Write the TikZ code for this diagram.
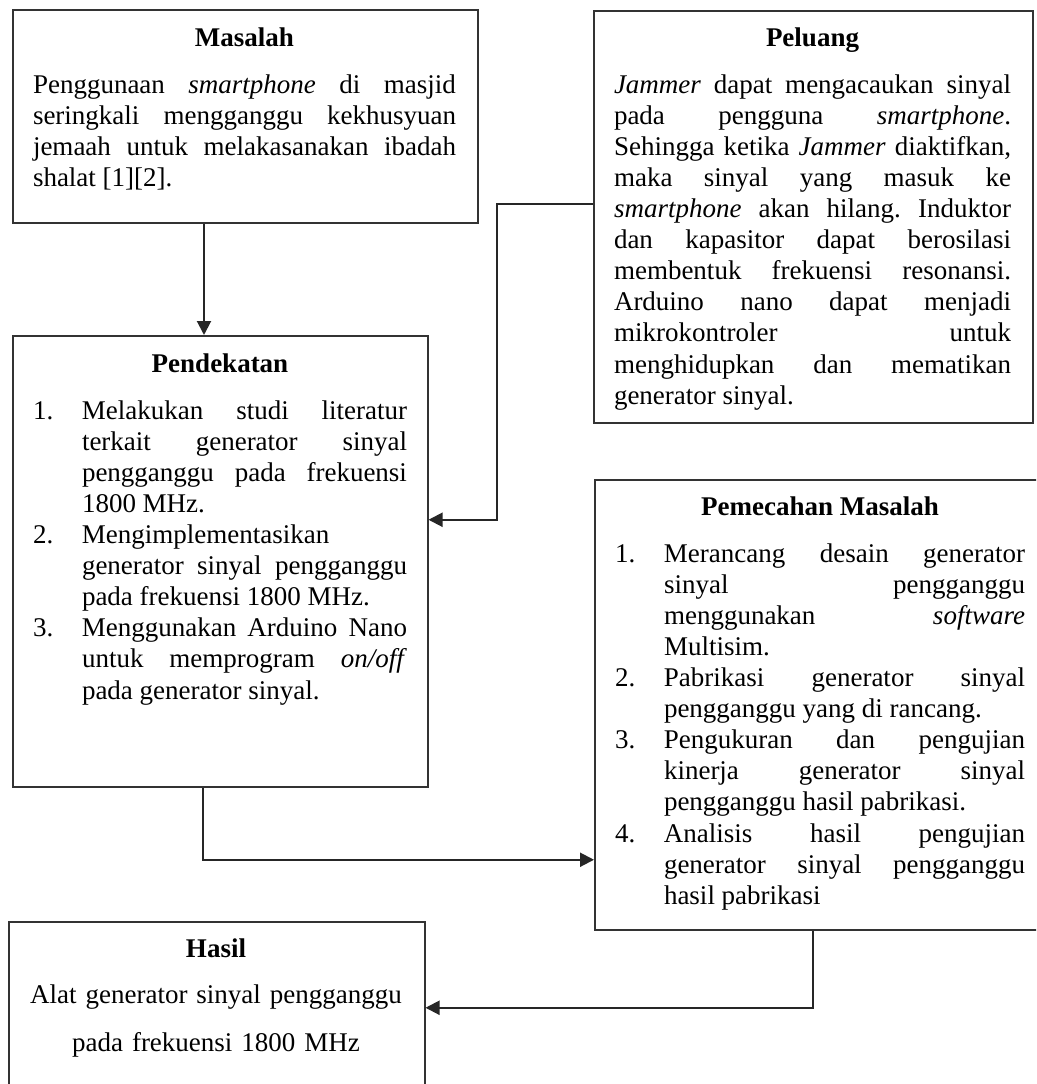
\documentclass[tikz,border=0pt]{standalone}
\usepackage{fontspec}
\setmainfont{Liberation Serif}
\usetikzlibrary{arrows.meta}
\newcommand{\butir}[1]{\par\noindent\hangindent=49pt\hangafter=1\makebox[49pt][l]{#1}\ignorespaces}
\tolerance=10000
\hbadness=10000
\hyphenpenalty=10000
\frenchspacing
\begin{document}
\begin{tikzpicture}[x=1pt, y=-1pt, font=\fontsize{27}{31.1}\selectfont,
    kotak/.style={draw=black!80, line width=1.5pt, anchor=north west, inner sep=0pt},
    teks/.style={anchor=base, inner sep=0pt, align=justify},
    panah/.style={draw=black!85, line width=2pt, -{Triangle[length=14pt, width=14pt]}}]
    \fill[white] (0,0) rectangle (1036,1084);
    \useasboundingbox (0,0) rectangle (1036,1084);
    \clip (0,0) rectangle (1036,1084);

    \node (masalah) [kotak, minimum width=465pt, minimum height=213pt] at (12, 9) {};
    \node (peluang) [kotak, minimum width=439pt, minimum height=412pt] at (593, 10) {};
    \node (pendekatan) [kotak, minimum width=415pt, minimum height=451pt] at (12, 335) {};
    \node (pemecahan) [kotak, minimum width=451pt, minimum height=450pt] at (594, 479) {};
    \node (hasil) [kotak, minimum width=416pt, minimum height=172pt] at (8, 921) {};

    \node (masalah-teks) [teks, text width=423pt] at (244.5, 46) {{\centering\bfseries Masalah\par}\vspace{16pt}Penggunaan \textit{smartphone} di masjid\linebreak seringkali mengganggu kekhusyuan\linebreak jemaah untuk melakasanakan ibadah\linebreak shalat [1][2].\par};
    \node (peluang-teks) [teks, text width=397pt] at (812.5, 46) {{\centering\bfseries Peluang\par}\vspace{16pt}\textit{Jammer} dapat mengacaukan sinyal\linebreak pada pengguna \textit{smartphone}.\linebreak Sehingga ketika \textit{Jammer} diaktifkan,\linebreak maka sinyal yang masuk ke\linebreak \textit{smartphone} akan hilang. Induktor\linebreak dan kapasitor dapat berosilasi\linebreak membentuk frekuensi resonansi.\linebreak Arduino nano dapat menjadi\linebreak mikrokontroler untuk\linebreak menghidupkan dan mematikan\linebreak generator sinyal.\par};
    \node (pendekatan-teks) [teks, text width=374pt] at (220, 372) {{\centering\bfseries Pendekatan\par}\vspace{16pt}%
        \butir{1.}Melakukan studi literatur\linebreak terkait generator sinyal\linebreak pengganggu pada frekuensi\linebreak 1800 MHz.
        \butir{2.}Mengimplementasikan\linebreak generator sinyal pengganggu\linebreak pada frekuensi 1800 MHz.
        \butir{3.}Menggunakan Arduino Nano\linebreak untuk memprogram \textit{on/off}\linebreak pada generator sinyal.\par};
    \node (pemecahan-teks) [teks, text width=410pt] at (820, 515) {{\centering\bfseries Pemecahan Masalah\par}\vspace{16pt}%
        \butir{1.}Merancang desain generator\linebreak sinyal pengganggu\linebreak menggunakan \textit{software}\linebreak Multisim.
        \butir{2.}Pabrikasi generator sinyal\linebreak pengganggu yang di rancang.
        \butir{3.}Pengukuran dan pengujian\linebreak kinerja generator sinyal\linebreak pengganggu hasil pabrikasi.
        \butir{4.}Analisis hasil pengujian\linebreak generator sinyal pengganggu\linebreak hasil pabrikasi\par};
    \node (hasil-teks) [teks, align=center, text width=374pt] at (216, 957) {{\bfseries Hasil}\\[15pt]Alat generator sinyal pengganggu\\[17pt]pada frekuensi 1800 MHz};

    \draw[panah] ([xshift=192pt]masalah.south west) -- ([xshift=192pt]pendekatan.north west);
    \draw[panah] ([yshift=13pt]peluang.west) -- ++(-96,0) |- ([yshift=41.5pt]pendekatan.east);
    \draw[panah] ([xshift=191pt]pendekatan.south west) |- ([yshift=-155pt]pemecahan.west);
    \draw[panah] ([xshift=219pt]pemecahan.south west) |- (hasil.east);
\end{tikzpicture}
\end{document}
